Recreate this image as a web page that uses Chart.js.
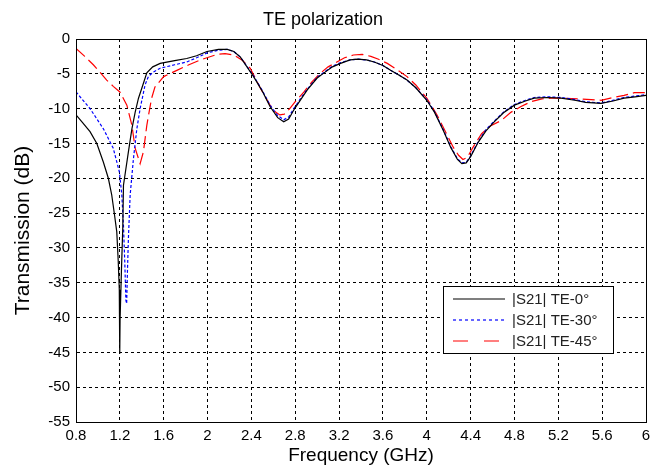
<!DOCTYPE html>
<html>
<head>
<meta charset="utf-8">
<script src="https://cdn.jsdelivr.net/npm/chart.js@4"></script>
<style>
  body { margin: 0; background: #fff; }
  canvas { display: block; }
</style>
</head>
<body>
<canvas id="chart" width="659" height="466"></canvas>
<script>
// values (GHz, dB)
const freq0 = [0.80, 0.86, 0.928, 0.99, 1.05, 1.095, 1.126, 1.15, 1.172, 1.185, 1.195, 1.198, 1.200, 1.202, 1.215, 1.227, 1.233, 1.278, 1.31, 1.34, 1.37, 1.41, 1.446, 1.50, 1.568, 1.70, 1.81, 1.90, 1.995, 2.10, 2.18, 2.24, 2.30, 2.42, 2.50, 2.57, 2.64, 2.695, 2.74, 2.787, 2.85, 2.91, 3.00, 3.06, 3.14, 3.214, 3.30, 3.37, 3.45, 3.52, 3.60, 3.67, 3.76, 3.82, 3.90, 4.00, 4.07, 4.15, 4.22, 4.28, 4.32, 4.36, 4.40, 4.47, 4.54, 4.615, 4.70, 4.80, 4.90, 4.98, 5.10, 5.225, 5.35, 5.45, 5.59, 5.70, 5.80, 5.90, 6.00];
const s21_0 = [-10.9, -12.0, -13.3, -15.0, -17.7, -20.0, -22.4, -25.1, -27.7, -31.8, -36, -40.4, -45.2, -40.4, -33, -27, -21, -16.2, -12.9, -10.5, -8.5, -6.6, -4.85, -4.0, -3.5, -3.1, -2.8, -2.4, -1.8, -1.5, -1.5, -1.8, -2.6, -5.4, -7.5, -9.7, -11.3, -11.9, -11.5, -10.2, -8.7, -7.3, -5.6, -4.9, -4.0, -3.5, -3.0, -2.9, -3.0, -3.3, -3.8, -4.5, -5.3, -5.9, -7.0, -8.8, -10.5, -13.1, -15.6, -17.3, -17.9, -17.8, -16.9, -14.8, -13.2, -11.9, -10.6, -9.5, -8.9, -8.5, -8.4, -8.5, -8.8, -9.1, -9.25, -8.9, -8.5, -8.3, -8.1];

const freq30 = [0.80, 0.928, 1.05, 1.14, 1.196, 1.218, 1.233, 1.245, 1.255, 1.262, 1.27, 1.278, 1.294, 1.324, 1.355, 1.385, 1.43, 1.46, 1.50, 1.568, 1.70, 1.81, 1.90, 1.995, 2.10, 2.18, 2.24, 2.30, 2.42, 2.50, 2.57, 2.64, 2.695, 2.74, 2.787, 2.85, 2.91, 3.00, 3.06, 3.14, 3.214, 3.30, 3.37, 3.45, 3.52, 3.60, 3.67, 3.76, 3.82, 3.90, 4.00, 4.07, 4.15, 4.22, 4.28, 4.32, 4.36, 4.40, 4.47, 4.54, 4.615, 4.70, 4.80, 4.90, 4.98, 5.10, 5.225, 5.35, 5.45, 5.59, 5.70, 5.80, 5.90, 6.00];
const s21_30 = [-7.6, -10.0, -12.9, -15.7, -19.1, -22.4, -26.8, -32, -37.5, -38, -33, -28.7, -22.4, -17.2, -12.9, -10.0, -6.6, -5.4, -4.8, -4.2, -3.7, -3.3, -2.7, -2.0, -1.6, -1.5, -1.8, -2.6, -5.3, -7.4, -9.5, -11.0, -11.6, -11.2, -10.0, -8.5, -7.2, -5.5, -4.8, -3.9, -3.4, -3.0, -2.9, -3.0, -3.3, -3.8, -4.5, -5.3, -5.9, -7.0, -8.7, -10.4, -13.0, -15.5, -17.2, -17.8, -17.7, -16.8, -14.7, -13.0, -11.8, -10.5, -9.4, -8.8, -8.4, -8.3, -8.4, -8.7, -9.0, -9.2, -8.8, -8.4, -8.2, -8.0];

const freq45 = [0.80, 0.88, 0.958, 1.02, 1.08, 1.14, 1.20, 1.264, 1.31, 1.34, 1.385, 1.415, 1.446, 1.47, 1.49, 1.52, 1.60, 1.72, 1.83, 1.934, 2.09, 2.16, 2.24, 2.32, 2.39, 2.48, 2.57, 2.62, 2.66, 2.70, 2.75, 2.80, 2.88, 2.95, 3.03, 3.10, 3.18, 3.25, 3.33, 3.41, 3.49, 3.56, 3.64, 3.73, 3.82, 3.90, 4.00, 4.09, 4.18, 4.24, 4.29, 4.33, 4.37, 4.42, 4.50, 4.58, 4.68, 4.77, 4.86, 4.95, 5.05, 5.13, 5.25, 5.40, 5.50, 5.59, 5.70, 5.80, 5.895, 6.00];
const s21_45 = [-1.35, -2.5, -3.7, -4.8, -5.9, -6.8, -7.6, -9.5, -12.4, -15.7, -17.9, -16.2, -12.4, -10.2, -8.5, -6.9, -5.4, -4.5, -3.7, -3.0, -2.2, -2.1, -2.3, -3.1, -4.2, -7.0, -9.5, -10.5, -10.9, -10.8, -10.0, -9.0, -7.6, -6.2, -4.9, -4.0, -3.3, -2.7, -2.3, -2.2, -2.5, -2.9, -3.5, -4.4, -5.4, -6.6, -8.5, -10.8, -13.6, -15.5, -16.7, -17.3, -17.0, -15.6, -13.6, -12.5, -11.7, -10.5, -9.7, -9.0, -8.6, -8.5, -8.5, -8.6, -8.7, -8.8, -8.4, -8.1, -7.7, -7.7];

const seriesLabels = ['|S21| TE-0°', '|S21| TE-30°', '|S21| TE-45°'];
const xMin = 0.8, xMax = 6, xStep = 0.4;
const yMin = -55, yMax = 0, yStep = 5;

function toPoints(xs, ys) {
    return xs.map((x, i) => ({ x: x, y: ys[i] }));
}

Chart.defaults.font.family = "'Liberation Sans', Arial, sans-serif";
Chart.defaults.color = '#000';

// white background + MATLAB style box
const boxPlugin = {
    id: 'box',
    beforeDraw(chart) {
        const ctx = chart.ctx;
        ctx.save();
        ctx.fillStyle = '#fff';
        ctx.fillRect(0, 0, chart.width, chart.height);
        ctx.restore();
    },
    afterDatasetsDraw(chart) {
        const { ctx, chartArea: a } = chart;
        ctx.save();
        ctx.strokeStyle = '#000';
        ctx.lineWidth = 1;
        ctx.setLineDash([]);
        ctx.strokeRect(a.left + 0.5, a.top + 0.5, a.right - a.left, a.bottom - a.top);
        ctx.restore();
    }
};

// legend box inside the plot, lower right
const legendPlugin = {
    id: 'boxLegend',
    afterDraw(chart) {
        const { ctx, chartArea: a } = chart;
        const w = 170, h = 67;
        const x = a.right - 33 - w, y = a.bottom - 136;
        ctx.save();
        ctx.fillStyle = '#fff';
        ctx.fillRect(x, y, w, h);
        ctx.strokeStyle = '#000';
        ctx.lineWidth = 1;
        ctx.setLineDash([]);
        ctx.strokeRect(x + 0.5, y + 0.5, w, h);
        ctx.font = "15px 'Liberation Sans', Arial, sans-serif";
        ctx.textBaseline = 'middle';
        chart.data.datasets.forEach((ds, i) => {
            const cy = y + 13 + i * 21;
            ctx.strokeStyle = ds.borderColor;
            ctx.lineWidth = ds.borderWidth;
            ctx.setLineDash(ds.legendDash);
            ctx.beginPath();
            ctx.moveTo(x + 10, cy);
            ctx.lineTo(x + 62, cy);
            ctx.stroke();
            ctx.fillStyle = '#222';
            ctx.fillText(ds.label, x + 69, cy + 1);
        });
        ctx.restore();
    }
};

new Chart(document.getElementById('chart'), {
    type: 'line',
    data: {
        datasets: [
            { label: seriesLabels[0], data: toPoints(freq0, s21_0), borderColor: '#000', borderWidth: 1.2, borderDash: [], legendDash: [] },
            { label: seriesLabels[1], data: toPoints(freq30, s21_30), borderColor: '#0000ff', borderWidth: 1.2, borderDash: [3, 2], legendDash: [3, 3] },
            { label: seriesLabels[2], data: toPoints(freq45, s21_45), borderColor: '#ff0000', borderWidth: 1.2, borderDash: [12, 5], legendDash: [15, 16] }
        ]
    },
    options: {
        responsive: false,
        animation: false,
        layout: { padding: { left: 0, right: 13, top: 0, bottom: 0 } },
        elements: { point: { radius: 0 }, line: { tension: 0 } },
        plugins: {
            legend: { display: false },
            tooltip: { enabled: false },
            title: {
                display: true,
                text: 'TE polarization',
                color: '#000',
                font: { size: 18, weight: 'normal', lineHeight: 1.2 },
                padding: { top: 9, bottom: 8.4 }
            }
        },
        scales: {
            x: {
                type: 'linear',
                min: xMin, max: xMax,
                afterFit(scale) { scale.height = 44; },
                ticks: {
                    stepSize: xStep,
                    padding: 5,
                    font: { size: 15 },
                    maxRotation: 0,
                    autoSkip: false,
                    callback: v => String(+v.toFixed(1))
                },
                grid: { color: '#000', lineWidth: 1, drawTicks: false },
                border: { display: true, color: '#000', width: 1, dash: [3, 3] },
                title: {
                    display: true,
                    text: 'Frequency (GHz)',
                    font: { size: 19, lineHeight: 1 },
                    padding: { top: 0, bottom: 1 }
                }
            },
            y: {
                min: yMin, max: yMax,
                afterFit(scale) { scale.width = 76; },
                ticks: {
                    stepSize: yStep,
                    padding: 6,
                    font: { size: 15 }
                },
                grid: { color: '#000', lineWidth: 1, drawTicks: false },
                border: { display: true, color: '#000', width: 1, dash: [3, 3] },
                title: {
                    display: true,
                    text: 'Transmission (dB)',
                    font: { size: 21, lineHeight: 1 },
                    padding: { top: 13, bottom: 0 }
                }
            }
        }
    },
    plugins: [boxPlugin, legendPlugin]
});
</script>
</body>
</html>
